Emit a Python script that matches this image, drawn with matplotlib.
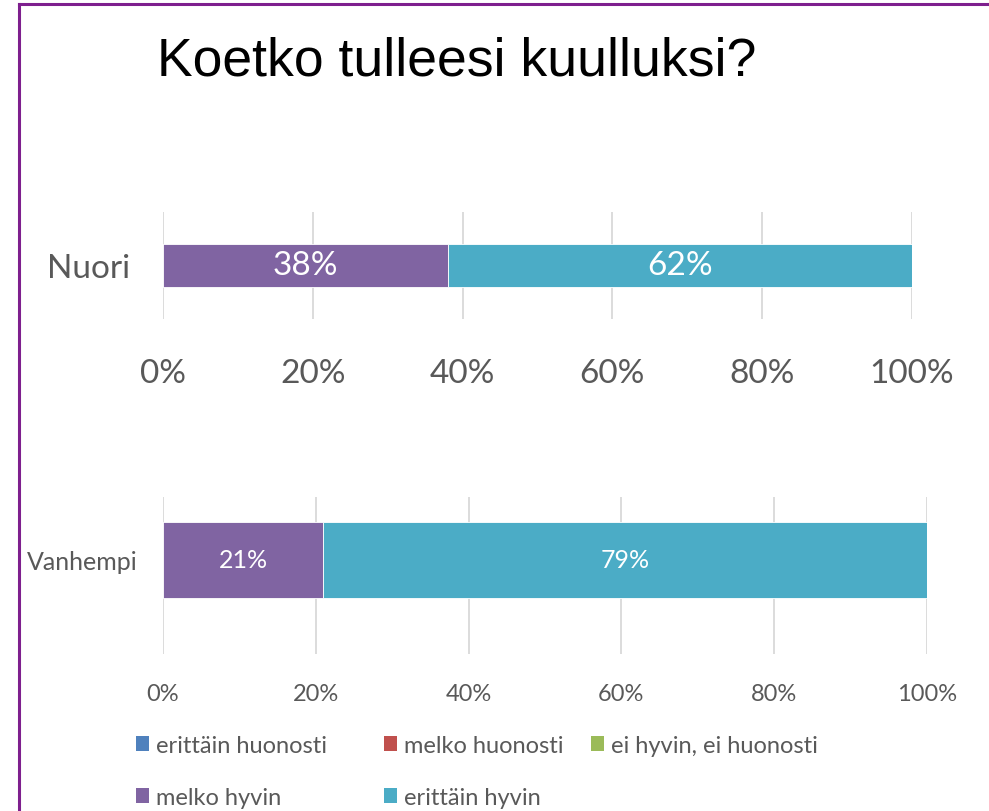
"""Stacked 100% bars: Koetko tulleesi kuulluksi? (Nuori / Vanhempi)"""
import matplotlib
matplotlib.use('Agg')
import matplotlib.pyplot as plt
from matplotlib import font_manager
from matplotlib.lines import Line2D
import numpy as np

# data
title = 'Koetko tulleesi kuulluksi?'
series = ['erittäin huonosti', 'melko huonosti', 'ei hyvin, ei huonosti',
          'melko hyvin', 'erittäin hyvin']
colors = ['#4F81BD', '#C0504D', '#9BBB59', '#8064A2', '#4BACC6']
nuori = [0, 0, 0, 38, 62]
vanhempi = [0, 0, 0, 21, 79]
xticks = [0, 20, 40, 60, 80, 100]
xticklabels = ['0%', '20%', '40%', '60%', '80%', '100%']

W, H = 989, 812
fig = plt.figure(figsize=(W / 100, H / 100), dpi=100)

available = {f.name for f in font_manager.fontManager.ttflist}
body_font = 'Lato' if 'Lato' in available else 'DejaVu Sans'
title_font = 'Liberation Sans Narrow' if 'Liberation Sans Narrow' in available else 'Liberation Sans'
tick_col = '#595959'


def px_axes(left, top, right, bottom):
    return fig.add_axes([left / W, 1 - bottom / H, (right - left) / W, (bottom - top) / H])


def draw_panel(ax, label, values, bar_h, ylim, tick_fs, cat_fs, cat_pad, x_pad, val_fs):
    left = 0
    handles = []
    for name, col, v in zip(series, colors, values):
        b = ax.barh([0], [v], left=left, height=bar_h, color=col,
                    edgecolor='white', linewidth=0.6, label=name)
        handles.append(b)
        if v > 0:
            ax.text(left + v / 2, 0, f'{v}%', ha='center', va='center',
                    color='white', fontsize=val_fs, family=body_font)
        left += v
    ax.set_xlim(0, 100)
    ax.set_ylim(*ylim)
    ax.set_xticks(xticks)
    ax.set_xticklabels(xticklabels, fontsize=tick_fs, color=tick_col, family=body_font)
    ax.set_yticks([0])
    ax.set_yticklabels([label], fontsize=cat_fs, color=tick_col, family=body_font)
    ax.tick_params(axis='x', length=0, pad=x_pad)
    ax.tick_params(axis='y', length=0, pad=cat_pad)
    ax.grid(axis='x', color='#D9D9D9', linewidth=1.3)
    ax.set_axisbelow(True)
    for s in ax.spines.values():
        s.set_visible(False)
    return handles


ax1 = px_axes(163, 213, 912, 320)
draw_panel(ax1, 'Nuori', nuori, 0.41, (-0.5, 0.5), 24, 24, 24, 28, 24)

ax2 = px_axes(163, 498, 927, 655)
handles = draw_panel(ax2, 'Vanhempi', vanhempi, 0.484, (-0.60, 0.40), 17, 18, 18, 21, 18)

fig.text(157 / W, 1 - 62 / H, title, fontsize=38.5, family=title_font,
         ha='left', va='center', color='black')

# legend, laid out in three fixed columns like the original
col_x = [136, 384, 591]
for c, x in enumerate(col_x):
    idx = [i for i in (c, c + 3) if i < len(series)]
    leg = fig.legend([handles[i] for i in idx], [series[i] for i in idx],
                     loc='upper left', bbox_to_anchor=(x / W, 1 - 736 / H),
                     frameon=False, ncol=1, handlelength=0.55, handleheight=0.6,
                     handletextpad=0.3, labelspacing=1.32, borderaxespad=0,
                     borderpad=0, prop={'family': body_font, 'size': 17})
    for t in leg.get_texts():
        t.set_color(tick_col)
    for p in leg.get_patches():
        p.set_edgecolor('none')

# purple frame on top and left edge
frame_col = '#7E1F8E'
fig.add_artist(Line2D([19 / W, 1], [1 - 5 / H, 1 - 5 / H], color=frame_col, lw=2.2))
fig.add_artist(Line2D([19 / W, 19 / W], [0, 1 - 5 / H], color=frame_col, lw=2.2))

fig.savefig('out.png', dpi=100, facecolor='white')
